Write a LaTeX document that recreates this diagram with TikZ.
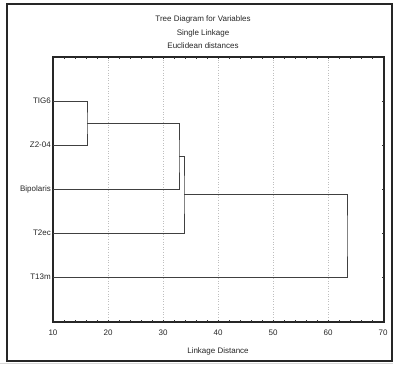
\documentclass[tikz,border=0pt]{standalone}
\usepackage{fontspec}
\setmainfont{Liberation Sans}
\usetikzlibrary{positioning}
\definecolor{treegray}{rgb}{0.25,0.25,0.25}
\definecolor{textgray}{rgb}{0.15,0.15,0.15}
\newcommand{\leafnode}[3]{ % Takes node name, y coord, label text as arguments
    \node [leaf] (#1) at (51,#2) {#3};
    \coordinate (#1-end) at (53,#2);
}

\begin{document}
\begin{tikzpicture}[x=1pt, y=-1pt,
    every node/.style={font=\fontsize{8}{9.5}\selectfont, text=textgray, inner sep=0pt},
    leaf/.style={anchor=east},
    tree/.style={draw=treegray, line width=0.9pt},
    grid/.style={draw=gray!50, dotted, line width=0.6pt},
    frame/.style={draw=black!85, line width=1.1pt}]
                \useasboundingbox (0,0) rectangle (396,366);

                % Outer frame
                \draw[gray!30, line width=0.8pt] (0,363) -- (393,363);
                \draw[frame] (7,4) rectangle (392,361);

                % Titles
                \node (title) at (203,19) {Tree Diagram for Variables};
                \node (subtitle) at (203,33) {Single Linkage};
                \node (metric) at (203,46) {Euclidean distances};

                % Grid lines
                \foreach \v in {20,30,...,60}
                    \draw[grid] ({53+(\v-10)*5.5},57) -- ({53+(\v-10)*5.5},322);

                % Axes box and ticks
                \draw[frame] (53,57) rectangle (384,322);
                \foreach \v in {12,14,...,68} {
                    \draw[black!80, line width=0.7pt] ({53+(\v-10)*5.5},322) -- ({53+(\v-10)*5.5},319.5);
                    \draw[black!80, line width=0.7pt] ({53+(\v-10)*5.5},57) -- ({53+(\v-10)*5.5},59.5);
                }
                \foreach \v in {10,20,...,70}
                    \node (tick\v) at ({53+(\v-10)*5.5},333) {\v};
                \node (xlabel) at (218,351) {Linkage Distance};

                % Leaves
                \leafnode{TIG6}{101}{TIG6}
                \leafnode{Z2}{145}{Z2-04}
                \leafnode{Bip}{189}{Bipolaris}
                \leafnode{T2ec}{233}{T2ec}
                \leafnode{T13m}{277}{T13m}
                \foreach \y in {101,145,189,233,277}
                    \draw[black!80, line width=0.7pt] (384,\y) -- (381.5,\y);

                % Merge points
                \coordinate (m1) at (87,123);
                \coordinate (m2) at (179,156);
                \coordinate (m3) at (184,194.5);
                \coordinate (m4) at (347,236);

                % Tree
                \draw[tree] (TIG6-end) -| (m1) |- (Z2-end);
                \draw[tree] (m1) -| (m2) |- (Bip-end);
                \draw[tree] (m2) -| (m3) |- (T2ec-end);
                \draw[tree] (m3) -| (m4) |- (T13m-end);
            \end{tikzpicture}
\end{document}
